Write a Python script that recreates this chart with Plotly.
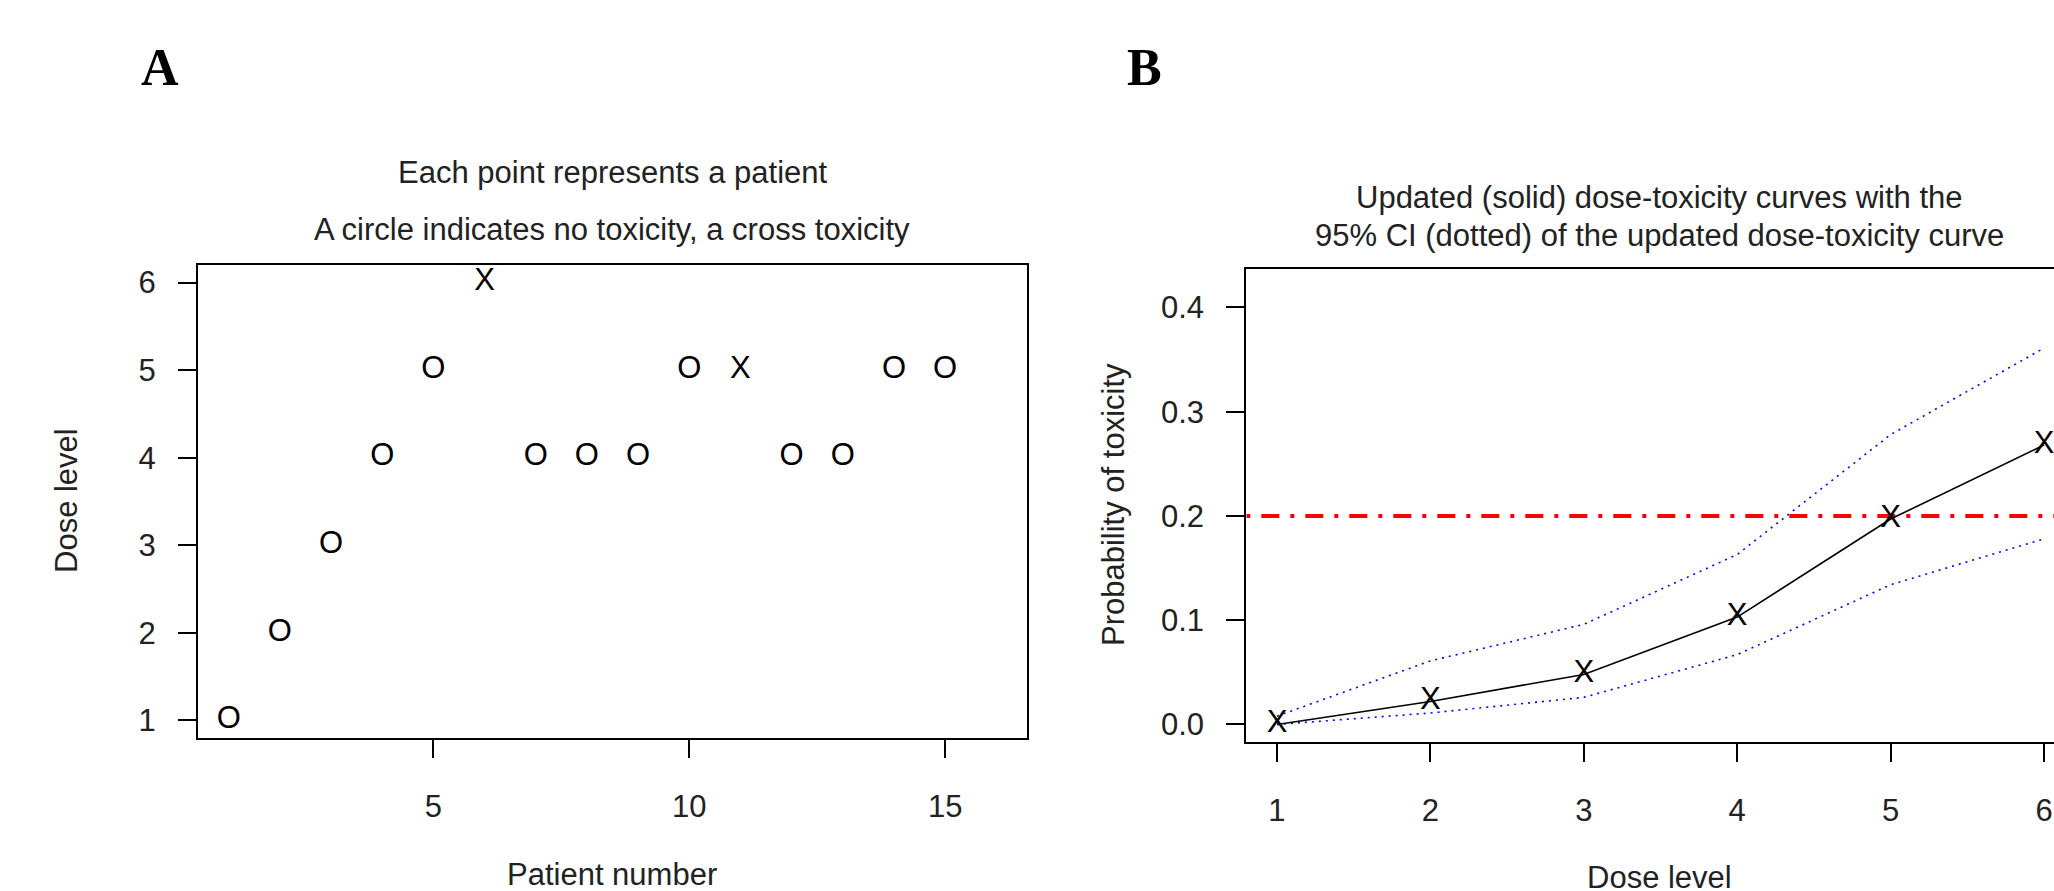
import plotly.graph_objects as go

# ---------------- Data ----------------
# Panel A: patients, assigned dose levels and toxicity outcomes
patients = list(range(1, 16))
patient_dose = [1, 2, 3, 4, 5, 6, 4, 4, 4, 5, 5, 4, 4, 5, 5]
patient_tox = [0, 0, 0, 0, 0, 1, 0, 0, 0, 0, 1, 0, 0, 0, 0]

# Panel B: updated dose-toxicity curve and 95% CI
dose_levels = [1, 2, 3, 4, 5, 6]
prob_tox = [0.0, 0.022, 0.048, 0.103, 0.197, 0.268]
ci_lower = [0.0, 0.011, 0.026, 0.067, 0.134, 0.178]
ci_upper = [0.008, 0.061, 0.096, 0.163, 0.278, 0.361]
target_tox = 0.2

a_xticks = [5, 10, 15]
a_yticks = [1, 2, 3, 4, 5, 6]
b_xticks = [1, 2, 3, 4, 5, 6]
b_yticks = [0.0, 0.1, 0.2, 0.3, 0.4]

# ---------------- Layout constants ----------------
W, H = 2054, 891
FONT = "Arial, Liberation Sans, sans-serif"
FS = 31


def px_x(px):
    return px / W


def px_y(py):
    return 1 - py / H


fig = go.Figure()

# Panel A markers as characters
fig.add_trace(go.Scatter(
    x=patients, y=patient_dose, mode="text",
    text=["X" if t else "O" for t in patient_tox],
    textposition="middle center",
    textfont=dict(family=FONT, size=FS, color="black"),
    cliponaxis=False, showlegend=False, xaxis="x", yaxis="y",
))

# Panel B: CI dotted lines
for ci in (ci_upper, ci_lower):
    fig.add_trace(go.Scatter(
        x=dose_levels, y=ci, mode="lines",
        line=dict(color="#0000FF", width=1.6, dash="2px,5px"),
        showlegend=False, xaxis="x2", yaxis="y2",
    ))

# Target toxicity line (dot-dash red)
fig.add_trace(go.Scatter(
    x=[0.8, 6.2], y=[target_tox, target_tox], mode="lines",
    line=dict(color="#FF0000", width=4, dash="4px,11px,18px,11px"),
    showlegend=False, xaxis="x2", yaxis="y2",
))

# Updated curve (solid black)
fig.add_trace(go.Scatter(
    x=dose_levels, y=prob_tox, mode="lines",
    line=dict(color="black", width=1.6),
    showlegend=False, xaxis="x2", yaxis="y2",
))
fig.add_trace(go.Scatter(
    x=dose_levels, y=prob_tox, mode="text",
    text=["X"] * len(dose_levels), textposition="middle center",
    textfont=dict(family=FONT, size=FS, color="black"),
    cliponaxis=False, showlegend=False, xaxis="x2", yaxis="y2",
))

axis_common = dict(
    showgrid=False, zeroline=False, showline=True, linecolor="black", linewidth=2,
    ticks="outside", ticklen=18, tickwidth=1.6, tickcolor="black",
    tickfont=dict(family=FONT, size=FS, color="#222222"),
)

fig.update_layout(
    width=W, height=H,
    margin=dict(l=0, r=0, t=0, b=0),
    paper_bgcolor="white", plot_bgcolor="white",
    showlegend=False,
    xaxis=dict(domain=[px_x(198), px_x(1027)], range=[0.4, 16.6],
               tickvals=a_xticks, mirror=True, anchor="y",
               ticklabelstandoff=22, **axis_common),
    yaxis=dict(domain=[px_y(738), px_y(265)], range=[0.8, 6.2],
               tickvals=a_yticks, mirror=True, anchor="x",
               ticklabelstandoff=16, **axis_common),
    xaxis2=dict(domain=[px_x(1246.3), 1.0], range=[0.8, 6.065],
                tickvals=b_xticks, mirror=True, anchor="y2",
                ticklabelstandoff=22, **axis_common),
    yaxis2=dict(domain=[px_y(742), px_y(269)], range=[-0.0168, 0.4368],
                tickvals=b_yticks, tickformat=".1f", mirror=False, anchor="x2",
                ticklabelstandoff=16, **axis_common),
)

ann_font = dict(family=FONT, size=FS, color="#222222")
annotations = [
    # panel labels
    dict(text="<b>A</b>", x=px_x(160), y=px_y(68),
         font=dict(family="Liberation Serif, Times New Roman, serif", size=52, color="black")),
    dict(text="<b>B</b>", x=px_x(1144), y=px_y(68),
         font=dict(family="Liberation Serif, Times New Roman, serif", size=52, color="black")),
    # panel A titles
    dict(text="Each point represents a patient", x=px_x(612), y=px_y(172), font=ann_font),
    dict(text="A circle indicates no toxicity, a cross toxicity", x=px_x(612), y=px_y(230), font=ann_font),
    # panel B titles
    dict(text="Updated (solid) dose-toxicity curves with the", x=px_x(1659), y=px_y(197), font=ann_font),
    dict(text="95% CI (dotted) of the updated dose-toxicity curve", x=px_x(1659), y=px_y(235), font=ann_font),
    # axis titles
    dict(text="Patient number", x=px_x(612), y=px_y(874), font=ann_font),
    dict(text="Dose level", x=px_x(1659), y=px_y(877), font=ann_font),
    dict(text="Dose level", x=px_x(66), y=px_y(501), textangle=-90, font=ann_font),
    dict(text="Probability of toxicity", x=px_x(1113), y=px_y(505), textangle=-90, font=ann_font),
]
for a in annotations:
    a.update(xref="paper", yref="paper", xanchor="center", yanchor="middle", showarrow=False)
fig.update_layout(annotations=annotations)

fig.write_html(
    "out.html",
    config={"displayModeBar": False},
    post_script="document.body.style.margin='0';document.body.style.overflow='hidden';",
)
